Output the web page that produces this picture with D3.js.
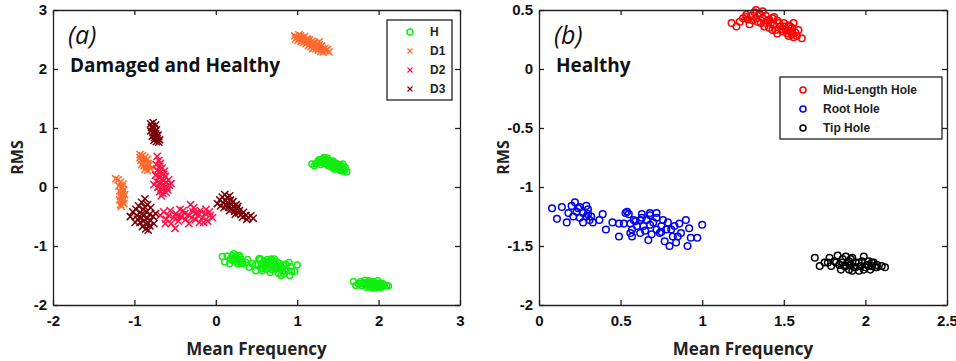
<!DOCTYPE html>
<html>
<head>
<meta charset="utf-8">
<script src="https://cdn.jsdelivr.net/npm/d3@7"></script>
<style>
  body { margin: 0; background: #fff; }
  svg { display: block; }
  .tick text { font-family: "Liberation Sans", Arial, sans-serif; font-weight: bold; font-size: 15px; fill: #111; }
  .frame path, .frame line { stroke: #222; stroke-width: 1.3; }
</style>
</head>
<body>
<svg id="chart" width="956" height="361"></svg>
<script>
// ---- data ----
var midLengthHole = [[1.18,0.39],[1.21,0.36],[1.23,0.40],[1.25,0.43],[1.27,0.46],[1.28,0.42],[1.29,0.38],[1.30,0.45],[1.32,0.48],[1.33,0.43],[1.34,0.40],[1.35,0.46],[1.36,0.39],[1.37,0.43],[1.38,0.36],[1.39,0.45],[1.40,0.41],[1.41,0.35],[1.42,0.39],[1.43,0.43],[1.44,0.37],[1.45,0.33],[1.46,0.41],[1.48,0.36],[1.49,0.32],[1.50,0.39],[1.51,0.34],[1.52,0.30],[1.53,0.37],[1.54,0.32],[1.55,0.29],[1.55,0.35],[1.56,0.39],[1.57,0.31],[1.58,0.28],[1.59,0.33],[1.61,0.26],[1.33,0.50],[1.35,0.47],[1.39,0.39],[1.43,0.33],[1.46,0.30],[1.49,0.34],[1.53,0.28],[1.56,0.27],[1.44,0.44],[1.37,0.49],[1.31,0.41],[1.27,0.44],[1.41,0.42],[1.50,0.36],[1.54,0.36],[1.47,0.39]];
var rootHole = [[0.08,-1.18],[0.11,-1.27],[0.14,-1.17],[0.17,-1.30],[0.18,-1.22],[0.20,-1.16],[0.22,-1.13],[0.24,-1.18],[0.25,-1.26],[0.27,-1.30],[0.27,-1.22],[0.29,-1.16],[0.30,-1.23],[0.31,-1.28],[0.32,-1.25],[0.37,-1.28],[0.39,-1.23],[0.41,-1.36],[0.45,-1.30],[0.49,-1.31],[0.49,-1.42],[0.52,-1.31],[0.53,-1.22],[0.54,-1.21],[0.55,-1.23],[0.56,-1.31],[0.57,-1.36],[0.57,-1.42],[0.59,-1.29],[0.60,-1.33],[0.62,-1.28],[0.63,-1.23],[0.64,-1.33],[0.65,-1.37],[0.66,-1.28],[0.67,-1.45],[0.68,-1.24],[0.69,-1.40],[0.70,-1.30],[0.72,-1.36],[0.72,-1.26],[0.74,-1.39],[0.75,-1.33],[0.76,-1.28],[0.77,-1.46],[0.78,-1.36],[0.79,-1.30],[0.80,-1.50],[0.81,-1.36],[0.82,-1.42],[0.83,-1.33],[0.84,-1.47],[0.85,-1.42],[0.86,-1.31],[0.87,-1.39],[0.90,-1.28],[0.91,-1.50],[0.92,-1.35],[0.93,-1.43],[0.97,-1.43],[1.00,-1.32],[0.68,-1.22],[0.63,-1.26],[0.56,-1.39],[0.72,-1.22],[0.75,-1.38],[0.68,-1.32],[0.62,-1.39],[0.58,-1.28],[0.23,-1.21],[0.21,-1.25],[0.25,-1.17],[0.30,-1.19],[0.33,-1.30],[0.29,-1.25]];
var tipHole = [[1.69,-1.60],[1.72,-1.67],[1.75,-1.64],[1.78,-1.60],[1.79,-1.67],[1.81,-1.63],[1.83,-1.58],[1.84,-1.66],[1.85,-1.70],[1.86,-1.61],[1.87,-1.67],[1.88,-1.59],[1.89,-1.64],[1.90,-1.70],[1.91,-1.66],[1.92,-1.60],[1.93,-1.68],[1.94,-1.64],[1.96,-1.71],[1.97,-1.67],[1.98,-1.63],[1.99,-1.59],[2.00,-1.68],[2.01,-1.66],[2.02,-1.63],[2.03,-1.70],[2.04,-1.67],[2.05,-1.64],[2.06,-1.68],[2.07,-1.66],[2.10,-1.67],[2.12,-1.68],[1.90,-1.63],[1.94,-1.68],[1.99,-1.70],[2.02,-1.67],[1.92,-1.71],[1.96,-1.64],[1.88,-1.67],[1.86,-1.64],[2.04,-1.64],[2.07,-1.68],[1.82,-1.64],[1.77,-1.64],[1.91,-1.61]];

var healthyH = midLengthHole.concat(rootHole, tipHole);

var damagedD1 = [
  [0.97,2.56],[0.98,2.51],[1.00,2.54],[1.01,2.49],[1.02,2.58],[1.03,2.52],[1.05,2.47],[1.06,2.53],[1.07,2.50],[1.08,2.45],[1.09,2.55],[1.10,2.48],[1.11,2.43],[1.12,2.51],[1.13,2.46],[1.14,2.40],[1.15,2.49],[1.16,2.44],[1.17,2.38],[1.18,2.47],[1.19,2.42],[1.20,2.36],[1.21,2.45],[1.22,2.40],[1.23,2.34],[1.24,2.43],[1.25,2.38],[1.26,2.32],[1.27,2.41],[1.28,2.36],[1.29,2.30],[1.30,2.39],[1.31,2.34],[1.32,2.29],[1.34,2.35],[1.35,2.31],[1.37,2.33],[1.39,2.29],[1.04,2.56],[1.13,2.50],[1.19,2.34],[1.27,2.46],
  [-1.20,0.12],[-1.17,0.08],[-1.14,0.05],[-1.19,0.02],[-1.16,-0.02],[-1.13,-0.05],[-1.18,-0.07],[-1.15,-0.10],[-1.12,-0.13],[-1.17,-0.16],[-1.14,-0.19],[-1.18,-0.22],[-1.15,-0.25],[-1.13,-0.28],[-1.17,-0.30],[-1.15,0.00],[-1.16,-0.14],[-1.14,-0.22],[-1.23,0.14],[-1.16,-0.33],
  [-0.93,0.50],[-0.90,0.53],[-0.87,0.50],[-0.84,0.47],[-0.92,0.45],[-0.89,0.42],[-0.86,0.44],[-0.83,0.40],[-0.91,0.38],[-0.88,0.36],[-0.85,0.34],[-0.82,0.37],[-0.87,0.30],[-0.84,0.28],[-0.80,0.31],[-0.93,0.55],[-0.86,0.39],[-0.89,0.47]
];
var damagedD2 = [
  [-0.72,0.52],[-0.70,0.45],[-0.73,0.38],[-0.69,0.35],[-0.66,0.32],[-0.72,0.28],[-0.68,0.25],[-0.64,0.22],[-0.74,0.20],[-0.70,0.17],[-0.66,0.14],[-0.62,0.18],[-0.58,0.12],[-0.73,0.10],[-0.69,0.07],[-0.65,0.04],[-0.61,0.08],[-0.57,0.03],[-0.71,0.00],[-0.67,-0.03],[-0.63,-0.01],[-0.59,-0.05],[-0.69,-0.08],[-0.65,-0.11],[-0.61,-0.09],[-0.76,0.04],[-0.55,0.06],[-0.63,0.27],[-0.68,0.40],[-0.64,0.11],[-0.67,-0.15],[-0.60,0.00],
  [-0.68,-0.48],[-0.64,-0.42],[-0.61,-0.55],[-0.58,-0.48],[-0.55,-0.62],[-0.52,-0.52],[-0.49,-0.45],[-0.46,-0.58],[-0.43,-0.50],[-0.40,-0.40],[-0.37,-0.55],[-0.34,-0.47],[-0.31,-0.30],[-0.28,-0.42],[-0.25,-0.55],[-0.22,-0.48],[-0.19,-0.40],[-0.16,-0.52],[-0.13,-0.45],[-0.10,-0.58],[-0.07,-0.48],[-0.04,-0.52],[-0.56,-0.40],[-0.44,-0.38],[-0.33,-0.62],[-0.27,-0.35],[-0.20,-0.60],[-0.12,-0.38],[-0.50,-0.70],[-0.38,-0.45],[-0.62,-0.62],[-0.30,-0.52],[-0.15,-0.60],[-0.08,-0.42],[-0.47,-0.50],[-0.24,-0.44]
];
var damagedD3 = [
  [-0.80,1.07],[-0.77,1.09],[-0.74,1.05],[-0.79,1.01],[-0.76,0.99],[-0.73,0.97],[-0.80,0.95],[-0.77,0.92],[-0.74,0.90],[-0.71,0.88],[-0.78,0.86],[-0.75,0.84],[-0.72,0.82],[-0.69,0.80],[-0.76,0.79],[-0.73,0.77],[-0.70,0.76],[-0.78,1.03],[-0.75,0.94],[-0.72,0.86],
  [-1.02,-0.42],[-0.98,-0.38],[-0.95,-0.32],[-0.91,-0.26],[-0.87,-0.20],[-0.84,-0.30],[-0.80,-0.35],[-0.97,-0.48],[-0.93,-0.43],[-0.89,-0.38],[-0.85,-0.42],[-0.81,-0.46],[-0.77,-0.50],[-0.96,-0.55],[-0.92,-0.52],[-0.88,-0.48],[-0.84,-0.53],[-0.80,-0.57],[-0.76,-0.62],[-0.93,-0.60],[-0.89,-0.58],[-0.85,-0.63],[-0.81,-0.66],[-0.90,-0.67],[-0.86,-0.71],[-0.83,-0.73],[-1.05,-0.50],[-0.99,-0.60],[-0.74,-0.45],[-0.87,-0.34],[-0.91,-0.46],[-0.83,-0.61],
  [0.02,-0.28],[0.05,-0.22],[0.08,-0.17],[0.11,-0.13],[0.14,-0.18],[0.17,-0.15],[0.06,-0.32],[0.09,-0.27],[0.12,-0.23],[0.15,-0.26],[0.18,-0.22],[0.21,-0.25],[0.10,-0.35],[0.13,-0.31],[0.16,-0.34],[0.19,-0.30],[0.22,-0.33],[0.25,-0.30],[0.17,-0.40],[0.20,-0.37],[0.23,-0.41],[0.26,-0.37],[0.29,-0.40],[0.24,-0.46],[0.28,-0.44],[0.31,-0.47],[0.34,-0.43],[0.33,-0.51],[0.37,-0.48],[0.40,-0.52],[0.43,-0.49],[0.46,-0.53],[0.38,-0.55],[0.27,-0.33],[0.14,-0.27]
];

var ticksAX = [-2, -1, 0, 1, 2, 3];
var ticksAY = [-2, -1, 0, 1, 2, 3];
var ticksBX = [0, 0.5, 1, 1.5, 2, 2.5];
var ticksBY = [-2, -1.5, -1, -0.5, 0, 0.5];

var svg = d3.select("#chart");

var crossPath = function(s) { return "M" + (-s) + "," + (-s) + "L" + s + "," + s + "M" + s + "," + (-s) + "L" + (-s) + "," + s; };

function panel(opt) {
  var x = d3.scaleLinear().domain(opt.xDomain).range([opt.left, opt.right]);
  var y = d3.scaleLinear().domain(opt.yDomain).range([opt.bottom, opt.top]);
  var fmt = function(d) { return String(d); };

  var g = svg.append("g");

  // points
  opt.series.forEach(function(s) {
    var sel = g.append("g").selectAll("path").data(s.data).enter();
    if (s.shape === "o") {
      sel.append("circle")
        .attr("cx", function(d) { return x(d[0]); })
        .attr("cy", function(d) { return y(d[1]); })
        .attr("r", opt.r)
        .attr("fill", "none")
        .attr("stroke", s.color)
        .attr("stroke-width", opt.sw);
    } else {
      sel.append("path")
        .attr("transform", function(d) { return "translate(" + x(d[0]) + "," + y(d[1]) + ")"; })
        .attr("d", crossPath(3.6))
        .attr("stroke", s.color)
        .attr("stroke-width", 1.5);
    }
  });

  // frame with inward ticks on all sides
  g.append("g").attr("class", "frame")
    .attr("transform", "translate(0," + opt.bottom + ")")
    .call(d3.axisBottom(x).tickValues(opt.xTicks).tickFormat(fmt).tickSizeInner(-5).tickSizeOuter(0).tickPadding(10));
  g.append("g").attr("class", "frame")
    .attr("transform", "translate(0," + opt.top + ")")
    .call(d3.axisTop(x).tickValues(opt.xTicks).tickFormat("").tickSizeInner(-5).tickSizeOuter(0));
  g.append("g").attr("class", "frame")
    .attr("transform", "translate(" + opt.left + ",0)")
    .call(d3.axisLeft(y).tickValues(opt.yTicks).tickFormat(fmt).tickSizeInner(-5).tickSizeOuter(0).tickPadding(6));
  g.append("g").attr("class", "frame")
    .attr("transform", "translate(" + opt.right + ",0)")
    .call(d3.axisRight(y).tickValues(opt.yTicks).tickFormat("").tickSizeInner(-5).tickSizeOuter(0));

  // axis titles
  g.append("text")
    .attr("x", (opt.left + opt.right) / 2).attr("y", 355)
    .attr("text-anchor", "middle")
    .style("font-family", "'Open Sans', sans-serif").style("font-weight", "bold").style("font-size", "17px")
    .attr("fill", "#222")
    .text("Mean Frequency");
  g.append("text")
    .attr("transform", "translate(" + (opt.left - 30) + "," + ((opt.top + opt.bottom) / 2) + ") rotate(-90)")
    .attr("text-anchor", "middle")
    .style("font-family", "'Open Sans', sans-serif").style("font-weight", "bold").style("font-size", "16px")
    .attr("fill", "#222")
    .text("RMS");

  // panel tag and heading
  g.append("text")
    .attr("x", opt.left + 15).attr("y", 44)
    .style("font-family", "'Open Sans', sans-serif").style("font-style", "italic").style("font-size", "25px")
    .attr("fill", "#111")
    .text(opt.tag);
  g.append("text")
    .attr("x", opt.left + 17).attr("y", 72)
    .style("font-family", "'Open Sans', sans-serif").style("font-weight", "bold").style("font-size", "19px")
    .attr("fill", "#111")
    .text(opt.heading);

  // legend
  var L = opt.legend;
  var lg = g.append("g").attr("transform", "translate(" + L.x + "," + L.y + ")");
  lg.append("rect").attr("width", L.w).attr("height", L.h)
    .attr("fill", "#fff").attr("stroke", "#222").attr("stroke-width", 1.3);
  opt.series.forEach(function(s, i) {
    var cy = L.pad + i * L.step;
    if (s.shape === "o") {
      lg.append("circle").attr("cx", L.mx).attr("cy", cy).attr("r", 3)
        .attr("fill", "none").attr("stroke", s.color).attr("stroke-width", 1.5);
    } else {
      lg.append("path").attr("transform", "translate(" + L.mx + "," + cy + ")")
        .attr("d", crossPath(2.5)).attr("stroke", s.color).attr("stroke-width", 1.1);
    }
    lg.append("text").attr("x", L.tx).attr("y", cy).attr("dy", "0.36em")
      .style("font-family", "'Liberation Sans', Arial, sans-serif").style("font-weight", "bold").style("font-size", "12px")
      .attr("fill", "#222")
      .text(s.name);
  });
}

panel({
  left: 53, right: 460, top: 10, bottom: 305,
  xDomain: [-2, 3], yDomain: [-2, 3], xTicks: ticksAX, yTicks: ticksAY,
  r: 3, sw: 1.5, tag: "(a)", heading: "Damaged and Healthy",
  series: [
    { name: "H", data: healthyH, color: "#10ee10", shape: "o" },
    { name: "D1", data: damagedD1, color: "#ff6a2e", shape: "x" },
    { name: "D2", data: damagedD2, color: "#ff1045", shape: "x" },
    { name: "D3", data: damagedD3, color: "#7a0008", shape: "x" }
  ],
  legend: { x: 387, y: 20, w: 65, h: 80, pad: 12, step: 19, mx: 23, tx: 43 }
});

panel({
  left: 539, right: 947, top: 10, bottom: 305,
  xDomain: [0, 2.5], yDomain: [-2, 0.5], xTicks: ticksBX, yTicks: ticksBY,
  r: 3.3, sw: 1.5, tag: "(b)", heading: "Healthy",
  series: [
    { name: "Mid-Length Hole", data: midLengthHole, color: "#ff0000", shape: "o" },
    { name: "Root Hole", data: rootHole, color: "#0000ee", shape: "o" },
    { name: "Tip Hole", data: tipHole, color: "#000000", shape: "o" }
  ],
  legend: { x: 780, y: 77, w: 162, h: 62, pad: 13, step: 19, mx: 23, tx: 43 }
});
</script>
</body>
</html>
